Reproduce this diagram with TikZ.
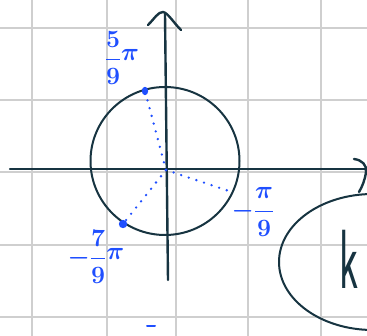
\documentclass[tikz,border=0pt]{standalone}
\usepackage{amsmath}
\usepackage{graphicx}
\definecolor{ink}{HTML}{173441}
\definecolor{pen}{HTML}{1F4FFF}
\definecolor{gridc}{HTML}{CFCFCF}
\newcommand{\hipi}{\raisebox{5pt}{$\pi$}}
\begin{document}
\begin{tikzpicture}[x=1pt,y=-1pt,
  gridline/.style={gridc,line width=1.6pt},
  axis/.style={ink,line width=2.4pt,line cap=round,line join=round},
  dotline/.style={pen,line width=2.6pt,line cap=round,dash pattern=on 0pt off 8pt},
  pt/.style={pen,fill=pen},
  lbl/.style={pen,font=\fontsize{24}{27}\selectfont\boldmath,inner sep=0pt}]
\useasboundingbox (0,0) rectangle (367,336);
\clip (0,0) rectangle (367,336);
\fill[white] (0,0) rectangle (367,336);
% grid
\foreach \x in {32,107,176,248,321} \draw[gridline] (\x,0) -- (\x,336);
\foreach \y in {28,100,172,245,317} \draw[gridline] (0,\y) -- (367,\y);
% axes
\coordinate (xl) at (10,169);
\coordinate (xr) at (367,169);
\coordinate (yb) at (168,280);
\coordinate (yt) at (165,14);
\coordinate (O) at (166,170);
\draw[axis] (xl) -- (xr);
\draw[axis] (yb) -- (yt);
\draw[axis] (148,25) .. controls (155,18) and (158,12) .. (163,12) .. controls (168,13) and (173,22) .. (181,30);
\draw[axis] (354,159) .. controls (362,160) and (367,165) .. (366,172) .. controls (365,180) and (362,187) .. (359,192);
% circle
\coordinate (C) at (165,161);
\draw[ink,line width=2pt] (C) ellipse [x radius=74.5, y radius=74];
% angle points
\coordinate (P1) at (145,91);
\coordinate (P2) at (123,224);
\coordinate (P3) at (232,192);
\draw[dotline] (O) -- (P1);
\draw[dotline] (O) -- (P2);
\draw[dotline] (O) -- (P3);
\fill[pt] (P1) ellipse [x radius=3.2, y radius=4.2];
\fill[pt] (P2) circle (4.2);
% labels
\node[lbl] (l1) at (122,58) {$\displaystyle\frac{5}{9}\hipi$};
\node[lbl] (l2) at (96,257) {$\displaystyle-\frac{7}{9}\hipi$};
\node[lbl] (l3) at (253,212) {$\displaystyle-\frac{\pi}{9}$};
\coordinate (d1) at (147,326);
\coordinate (d2) at (155,326);
\draw[pen,line width=2pt,line cap=round] (d1) -- (d2);
% ellipse with k
\coordinate (E) at (373,262);
\draw[ink,line width=2pt] (E) ellipse [x radius=94, y radius=68];
\node[ink,anchor=base west,inner sep=0pt,font=\sffamily\fontsize{84}{84}\selectfont] (k) at (339,289) {\scalebox{0.5}[1]{k}};
\end{tikzpicture}
\end{document}
